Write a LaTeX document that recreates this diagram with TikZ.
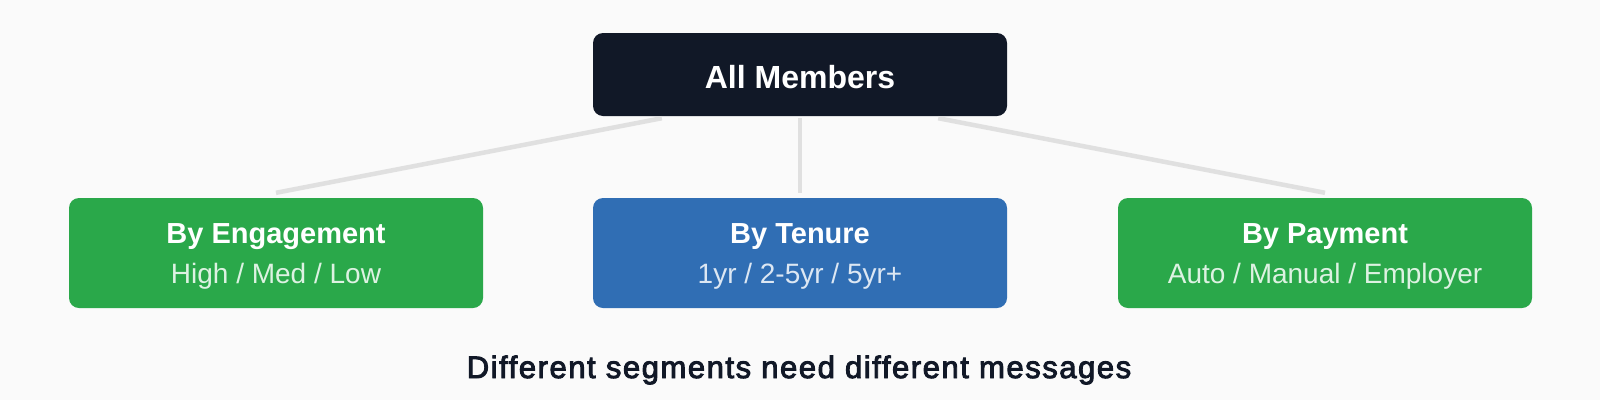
\documentclass[tikz,border=0pt]{standalone}
\usepackage{fontspec}
\setmainfont{Liberation Sans}
\newfontfamily\capfont[FakeBold=3,LetterSpace=5]{Liberation Sans}
\definecolor{bgc}{HTML}{FAFAFA}
\definecolor{navy}{HTML}{111827}
\definecolor{grn}{HTML}{2AA84A}
\definecolor{blu}{HTML}{306EB4}
\definecolor{conc}{HTML}{E0E0E0}
\definecolor{subg}{HTML}{DDF2E2}
\definecolor{subb}{HTML}{DCE7F3}
\begin{document}
\begin{tikzpicture}[x=1pt,y=-1pt,
  box/.style={rounded corners=10pt, minimum width=414pt, inner sep=0pt, draw=none},
  childbox/.style={box, minimum height=110pt},
  conn/.style={draw=conc, line width=4.5pt},
  toplabel/.style={anchor=base, inner sep=0pt, text=white, font=\fontsize{32}{38}\selectfont\bfseries},
  titlelabel/.style={anchor=base, inner sep=0pt, text=white, font=\fontsize{29}{35}\selectfont\bfseries},
  sublabel/.style={anchor=base, inner sep=0pt, font=\fontsize{28}{34}\selectfont},
  caplabel/.style={anchor=base, inner sep=0pt, text=navy, font=\capfont\fontsize{31}{37}\selectfont}
]
\useasboundingbox (0,0) rectangle (1600,400);
\fill[bgc] (0,0) rectangle (1600,400);

\node[box, fill=navy, minimum height=83pt] (top) at (800,74.5) {};
\node[childbox, fill=grn] (eng) at (276,253) {};
\node[childbox, fill=blu] (ten) at (800,253) {};
\node[childbox, fill=grn] (pay) at (1325,253) {};

\draw[conn] ([xshift=69pt,yshift=-2pt]top.south west) -- ([yshift=5pt]eng.north);
\draw[conn] ([yshift=-2pt]top.south) -- ([yshift=5pt]ten.north);
\draw[conn] ([xshift=-69pt,yshift=-2pt]top.south east) -- ([yshift=5pt]pay.north);

\node[toplabel] (toptext) at (800,88) {All Members};

\node[titlelabel] (engt) at (276,243) {By Engagement};
\node[sublabel, text=subg] (engs) at (276,283) {High / Med / Low};

\node[titlelabel] (tent) at (800,243) {By Tenure};
\node[sublabel, text=subb] (tens) at (800,283) {1yr / 2-5yr / 5yr+};

\node[titlelabel] (payt) at (1325,243) {By Payment};
\node[sublabel, text=subg] (pays) at (1325,283) {Auto / Manual / Employer};

\node[caplabel] (cap) at (799,378) {Different segments need different messages};
\end{tikzpicture}
\end{document}
